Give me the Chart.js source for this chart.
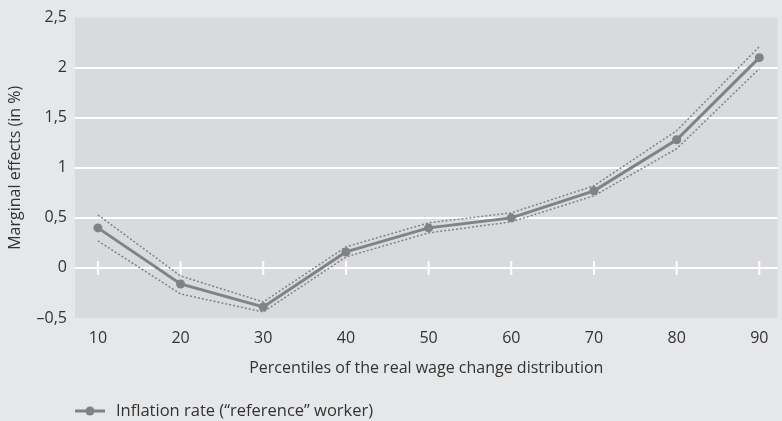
<!DOCTYPE html>
<html>
<head>
<meta charset="utf-8">
<script src="https://cdn.jsdelivr.net/npm/chart.js@4/dist/chart.umd.min.js"></script>
<style>
  html, body { margin: 0; padding: 0; background: #e6e7e9; }
  #wrap { width: 782px; height: 421px; }
</style>
</head>
<body>
<div id="wrap"><canvas id="chart"></canvas></div>
<script>
const percentiles = [10, 20, 30, 40, 50, 60, 70, 80, 90];
const effect = [0.40, -0.16, -0.39, 0.16, 0.40, 0.50, 0.77, 1.28, 2.10];
const upper  = [0.53, -0.08, -0.34, 0.21, 0.45, 0.55, 0.82, 1.37, 2.21];
const lower  = [0.27, -0.26, -0.44, 0.11, 0.35, 0.46, 0.72, 1.19, 1.99];
const yTicks = [-0.5, 0, 0.5, 1, 1.5, 2, 2.5];

const seriesName = "Inflation rate (\u201creference\u201d worker)";
const gray = "#808285";
const txt = "#333333";
const font = "'Open Sans', 'Noto Sans', sans-serif";

const pts = arr => percentiles.map((p, i) => ({ x: p, y: arr[i] }));
const fmt = v => (v < 0 ? "\u2013" : "") + String(Math.abs(v)).replace(".", ",");

const plotBg = {
  id: "plotBg",
  beforeDraw(chart) {
    const { ctx, chartArea: a } = chart;
    ctx.save();
    ctx.fillStyle = "#d9dadc";
    ctx.fillRect(a.left, a.top, a.right - a.left, a.bottom - a.top);
    ctx.restore();
  },
  beforeDatasetsDraw(chart) {
    // small white ticks sitting on the zero line
    const { ctx, scales } = chart;
    const y0 = scales.y.getPixelForValue(0);
    ctx.save();
    ctx.strokeStyle = "#ffffff";
    ctx.lineWidth = 2;
    percentiles.forEach(p => {
      const x = scales.x.getPixelForValue(p);
      ctx.beginPath();
      ctx.moveTo(x, y0 - 7);
      ctx.lineTo(x, y0 + 7);
      ctx.stroke();
    });
    ctx.restore();
  },
  afterDraw(chart) {
    // legend
    const { ctx } = chart;
    const y = 411;
    ctx.save();
    ctx.strokeStyle = gray;
    ctx.lineWidth = 3;
    ctx.beginPath();
    ctx.moveTo(75, y);
    ctx.lineTo(105, y);
    ctx.stroke();
    ctx.fillStyle = gray;
    ctx.beginPath();
    ctx.arc(90, y, 4.5, 0, Math.PI * 2);
    ctx.fill();
    ctx.fillStyle = txt;
    ctx.font = "16.5px " + font;
    ctx.textBaseline = "middle";
    ctx.fillText(seriesName, 116, y);
    ctx.restore();
  }
};

new Chart(document.getElementById("chart"), {
  type: "line",
  data: {
    datasets: [
      {
        label: seriesName,
        data: pts(effect),
        borderColor: gray,
        backgroundColor: gray,
        borderWidth: 3,
        pointRadius: 4.5,
        pointBackgroundColor: gray,
        pointBorderWidth: 0,
        order: 0
      },
      {
        label: "upper",
        data: pts(upper),
        borderColor: gray,
        borderWidth: 1.5,
        borderDash: [2, 2],
        pointRadius: 0,
        order: 1
      },
      {
        label: "lower",
        data: pts(lower),
        borderColor: gray,
        borderWidth: 1.5,
        borderDash: [2, 2],
        pointRadius: 0,
        order: 1
      }
    ]
  },
  options: {
    responsive: true,
    maintainAspectRatio: false,
    animation: false,
    layout: { padding: { top: 15, right: 0, bottom: 40, left: 0 } },
    plugins: {
      legend: { display: false },
      tooltip: { enabled: false }
    },
    scales: {
      x: {
        type: "linear",
        min: 7.23,
        max: 92.2,
        afterBuildTicks: s => { s.ticks = percentiles.map(v => ({ value: v })); },
        afterFit: s => { s.height = 63; },
        grid: { display: false, drawTicks: false },
        border: { display: false },
        ticks: { color: txt, font: { family: font, size: 16 }, padding: 11, callback: v => v },
        title: {
          display: true,
          text: "Percentiles of the real wage change distribution",
          color: txt,
          font: { family: font, size: 16 },
          padding: { top: 4, bottom: 3 }
        }
      },
      y: {
        min: -0.5,
        max: 2.5,
        afterBuildTicks: s => { s.ticks = yTicks.map(v => ({ value: v })); },
        afterFit: s => { s.width = 75; },
        grid: {
          drawTicks: false,
          lineWidth: 2,
          color: c => (c.tick && (c.tick.value === -0.5 || c.tick.value === 2.5)) ? "rgba(0,0,0,0)" : "#ffffff"
        },
        border: { display: false },
        ticks: { color: txt, font: { family: font, size: 16 }, padding: 8, callback: v => fmt(v) },
        title: {
          display: true,
          text: "Marginal effects (in %)",
          color: txt,
          font: { family: font, size: 16 },
          padding: { top: 6, bottom: 0 }
        }
      }
    }
  },
  plugins: [plotBg]
});
</script>
</body>
</html>
